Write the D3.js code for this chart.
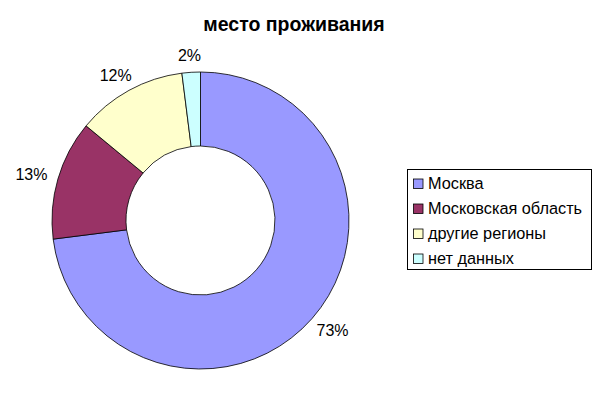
<!DOCTYPE html>
<html>
<head>
<meta charset="utf-8">
<script src="https://cdn.jsdelivr.net/npm/d3@7/dist/d3.min.js"></script>
<style>
html,body{margin:0;padding:0;background:#fff;}
svg{display:block;font-family:"Liberation Sans",Arial,sans-serif;}
</style>
</head>
<body>
<svg id="chart" width="599" height="394"></svg>
<script>
const title = "место проживания";
const categories = ["Москва", "Московская область", "другие регионы", "нет данных"];
const values = [73, 13, 12, 2];
const colors = ["#9999FF", "#993366", "#FFFFCC", "#CCFFFF"];

const svg = d3.select("#chart");
const cx = 200.5, cy = 220.5, outerR = 148.5, innerR = 74.5;

svg.append("text")
  .attr("x", 294).attr("y", 31)
  .attr("text-anchor", "middle")
  .attr("font-size", 19.5).attr("font-weight", "bold")
  .attr("fill", "#000")
  .text(title);

const data = categories.map((c, i) => ({cat: c, value: values[i], color: colors[i]}));
const pie = d3.pie().value(d => d.value).sort(null);
const arcs = pie(data);
const arc = d3.arc().innerRadius(innerR).outerRadius(outerR);
const labelR = 166;
const total = d3.sum(values);
const fmt = d3.format(".0%");

const g = svg.append("g").attr("transform", `translate(${cx},${cy})`);
g.selectAll("path.slice").data(arcs).join("path")
  .attr("class", "slice")
  .attr("d", arc)
  .attr("fill", d => d.data.color)
  .attr("stroke", "#000")
  .attr("stroke-width", 0.8);

g.selectAll("text.lbl").data(arcs).join("text")
  .attr("class", "lbl")
  .attr("transform", d => {
    const a = (d.startAngle + d.endAngle) / 2;
    const x = Math.sin(a) * labelR + Math.sin(a) * 10;
    const y = -Math.cos(a) * labelR;
    return `translate(${x},${y})`;
  })
  .attr("text-anchor", "middle")
  .attr("dy", "0.36em")
  .attr("font-size", 16)
  .attr("fill", "#000")
  .text(d => fmt(d.data.value / total));

// legend
const lx = 407.5, ly = 169.5, lw = 184, lh = 100;
const leg = svg.append("g");
leg.append("rect").attr("x", lx).attr("y", ly).attr("width", lw).attr("height", lh)
  .attr("fill", "#fff").attr("stroke", "#000").attr("stroke-width", 1);
const ly0 = d3.scaleBand().domain(categories).range([ly + 1.5, ly + lh + 1.5]);
const items = leg.selectAll("g.item").data(data).join("g").attr("class", "item")
  .attr("transform", d => `translate(${lx}, ${ly0(d.cat) + ly0.bandwidth() / 2})`);
items.append("rect").attr("x", 6).attr("y", -4.5).attr("width", 9.5).attr("height", 9.5)
  .attr("fill", d => d.color).attr("stroke", "#000").attr("stroke-width", 0.8);
items.append("text").attr("x", 20.5).attr("y", 0).attr("dy", "0.36em")
  .attr("font-size", 16.3).attr("fill", "#000").text(d => d.cat);
</script>
</body>
</html>
